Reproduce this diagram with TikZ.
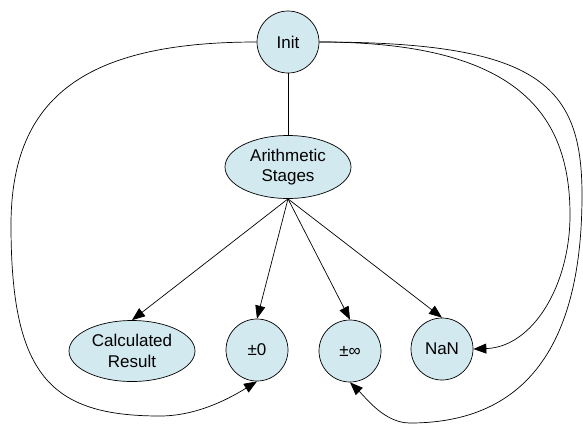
\documentclass[tikz,border=0pt]{standalone}
\usepackage{fontspec}
\setmainfont{Liberation Sans}
\usetikzlibrary{shapes.geometric,arrows.meta}
\definecolor{stagefill}{RGB}{210,233,239}
\begin{document}
\begin{tikzpicture}[x=1pt,y=-1pt,
  state/.style={draw=black, line width=0.7pt, fill=stagefill,
    font=\fontsize{17}{20.5}\selectfont, align=center, inner sep=0pt},
  round/.style={state, circle, minimum size=62pt},
  oval/.style={state, ellipse, minimum width=126pt, minimum height=63pt},
  link/.style={line width=0.7pt, draw=black},
  arrowlink/.style={link, -{Triangle[length=13pt,width=10pt]}}]
\useasboundingbox (0,0) rectangle (583,424);

% states
\node[round] (init)   at (288,42)  {Init};
\node[oval]  (stages) at (288,167) {Arithmetic\\Stages};
\node[oval, minimum height=61pt] (calc) at (132,351) {Calculated\\Result};
\node[round] (zero)   at (257,350) {±0};
\node[round] (inf)    at (350,351) {±∞};
\node[round] (nan)    at (442,349) {NaN};

% init feeds the arithmetic stages
\draw[link] (init.south) -- (stages.north);

% results of the arithmetic stages
\draw[arrowlink] (stages.south) -- (calc.north);
\draw[arrowlink] (stages.south) -- (zero.north);
\draw[arrowlink] (stages.south) -- (inf.north);
\draw[arrowlink] (stages.south) -- (nan.north);

% direct transitions from init
\draw[arrowlink] (init.west)
  .. controls (88,42) and (11,95) .. (11,225)
  .. controls (11,375) and (50,416) .. (160,416)
  .. controls (200,416) and (235,395) .. (zero.south);
\draw[arrowlink] (init.east)
  .. controls (519,42) and (570,115) .. (570,215)
  .. controls (570,285) and (533,347) .. (nan.east);
\draw[arrowlink] (init.east)
  .. controls (539,42) and (582,85) .. (582,195)
  .. controls (582,325) and (540,423) .. (410,423)
  .. controls (385,423) and (367,399) .. (inf.south);
\end{tikzpicture}
\end{document}
